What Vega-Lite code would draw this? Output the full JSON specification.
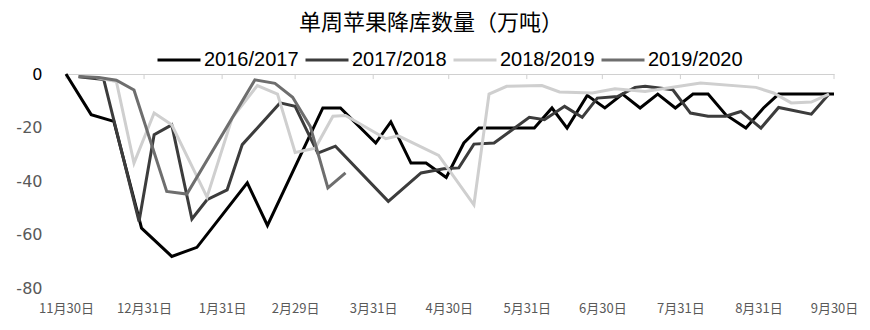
{
  "$schema": "https://vega.github.io/schema/vega-lite/v6.json",
  "width": 768,
  "height": 214,
  "autosize": "none",
  "padding": {"left": 66, "top": 74, "right": 36, "bottom": 42},
  "background": "white",
  "config": {
    "view": {"stroke": null},
    "axisX": {
      "domain": false, "ticks": false, "grid": false, "title": null,
      "labelFont": "Noto Sans CJK SC", "labelFontSize": 13, "labelColor": "#595959",
      "labelPadding": 14, "labelOverlap": false, "labelFlush": false
    },
    "axisY": {
      "domain": false, "ticks": false, "title": null, "tickCount": 4,
      "labelFont": "DejaVu Sans", "labelFontSize": 16, "labelPadding": 24
    }
  },
  "title": {
    "text": "单周苹果降库数量（万吨）",
    "font": "Noto Sans CJK SC",
    "fontSize": 22,
    "fontWeight": "normal",
    "color": "black",
    "anchor": "middle",
    "dx": -19,
    "offset": 2
  },
  "datasets": {
    "ticks": [
      {"date": "2019-11-30", "top": 0, "bottom": -1.9},
      {"date": "2019-12-31", "top": 0, "bottom": -1.9},
      {"date": "2020-01-31", "top": 0, "bottom": -1.9},
      {"date": "2020-02-29", "top": 0, "bottom": -1.9},
      {"date": "2020-03-31", "top": 0, "bottom": -1.9},
      {"date": "2020-04-30", "top": 0, "bottom": -1.9},
      {"date": "2020-05-31", "top": 0, "bottom": -1.9},
      {"date": "2020-06-30", "top": 0, "bottom": -1.9},
      {"date": "2020-07-31", "top": 0, "bottom": -1.9},
      {"date": "2020-08-31", "top": 0, "bottom": -1.9},
      {"date": "2020-09-30", "top": 0, "bottom": -1.9}
    ],
    "main": [
      {"series": "2016/2017", "date": "2019-11-30", "value": 0},
      {"series": "2016/2017", "date": "2019-12-10", "value": -15.2},
      {"series": "2016/2017", "date": "2019-12-19", "value": -17.7},
      {"series": "2016/2017", "date": "2019-12-30", "value": -57.6},
      {"series": "2016/2017", "date": "2020-01-11", "value": -68.2},
      {"series": "2016/2017", "date": "2020-01-21", "value": -64.8},
      {"series": "2016/2017", "date": "2020-02-10", "value": -40.7},
      {"series": "2016/2017", "date": "2020-02-18", "value": -56.6},
      {"series": "2016/2017", "date": "2020-03-11", "value": -12.7},
      {"series": "2016/2017", "date": "2020-03-18", "value": -12.7},
      {"series": "2016/2017", "date": "2020-04-01", "value": -25.8},
      {"series": "2016/2017", "date": "2020-04-07", "value": -17.9},
      {"series": "2016/2017", "date": "2020-04-15", "value": -33.3},
      {"series": "2016/2017", "date": "2020-04-21", "value": -33.3},
      {"series": "2016/2017", "date": "2020-04-29", "value": -38.7},
      {"series": "2016/2017", "date": "2020-05-06", "value": -25.8},
      {"series": "2016/2017", "date": "2020-05-12", "value": -20.2},
      {"series": "2016/2017", "date": "2020-06-03", "value": -20.2},
      {"series": "2016/2017", "date": "2020-06-10", "value": -12.7},
      {"series": "2016/2017", "date": "2020-06-16", "value": -20.2},
      {"series": "2016/2017", "date": "2020-06-24", "value": -8.0},
      {"series": "2016/2017", "date": "2020-07-01", "value": -12.7},
      {"series": "2016/2017", "date": "2020-07-08", "value": -7.5},
      {"series": "2016/2017", "date": "2020-07-15", "value": -12.7},
      {"series": "2016/2017", "date": "2020-07-22", "value": -7.5},
      {"series": "2016/2017", "date": "2020-07-29", "value": -12.7},
      {"series": "2016/2017", "date": "2020-08-05", "value": -7.5},
      {"series": "2016/2017", "date": "2020-08-11", "value": -7.5},
      {"series": "2016/2017", "date": "2020-08-18", "value": -15.2},
      {"series": "2016/2017", "date": "2020-08-26", "value": -20.2},
      {"series": "2016/2017", "date": "2020-09-02", "value": -12.7},
      {"series": "2016/2017", "date": "2020-09-08", "value": -7.5},
      {"series": "2016/2017", "date": "2020-09-30", "value": -7.5},

      {"series": "2017/2018", "date": "2019-12-05", "value": -1.0},
      {"series": "2017/2018", "date": "2019-12-15", "value": -2.1},
      {"series": "2017/2018", "date": "2019-12-29", "value": -55.1},
      {"series": "2017/2018", "date": "2020-01-04", "value": -22.7},
      {"series": "2017/2018", "date": "2020-01-11", "value": -19.0},
      {"series": "2017/2018", "date": "2020-01-19", "value": -54.2},
      {"series": "2017/2018", "date": "2020-01-25", "value": -47.0},
      {"series": "2017/2018", "date": "2020-02-02", "value": -43.3},
      {"series": "2017/2018", "date": "2020-02-08", "value": -26.4},
      {"series": "2017/2018", "date": "2020-02-23", "value": -10.8},
      {"series": "2017/2018", "date": "2020-02-29", "value": -12.1},
      {"series": "2017/2018", "date": "2020-03-09", "value": -29.6},
      {"series": "2017/2018", "date": "2020-03-16", "value": -27.0},
      {"series": "2017/2018", "date": "2020-04-06", "value": -47.6},
      {"series": "2017/2018", "date": "2020-04-19", "value": -37.0},
      {"series": "2017/2018", "date": "2020-04-28", "value": -35.4},
      {"series": "2017/2018", "date": "2020-05-04", "value": -35.1},
      {"series": "2017/2018", "date": "2020-05-10", "value": -26.2},
      {"series": "2017/2018", "date": "2020-05-18", "value": -25.8},
      {"series": "2017/2018", "date": "2020-06-01", "value": -16.2},
      {"series": "2017/2018", "date": "2020-06-07", "value": -17.1},
      {"series": "2017/2018", "date": "2020-06-15", "value": -12.1},
      {"series": "2017/2018", "date": "2020-06-22", "value": -16.2},
      {"series": "2017/2018", "date": "2020-06-28", "value": -9.0},
      {"series": "2017/2018", "date": "2020-07-06", "value": -8.4},
      {"series": "2017/2018", "date": "2020-07-13", "value": -5.0},
      {"series": "2017/2018", "date": "2020-07-17", "value": -4.6},
      {"series": "2017/2018", "date": "2020-07-28", "value": -5.9},
      {"series": "2017/2018", "date": "2020-08-04", "value": -14.6},
      {"series": "2017/2018", "date": "2020-08-11", "value": -15.8},
      {"series": "2017/2018", "date": "2020-08-18", "value": -15.8},
      {"series": "2017/2018", "date": "2020-08-24", "value": -14.0},
      {"series": "2017/2018", "date": "2020-09-01", "value": -20.2},
      {"series": "2017/2018", "date": "2020-09-08", "value": -12.5},
      {"series": "2017/2018", "date": "2020-09-21", "value": -15.0},
      {"series": "2017/2018", "date": "2020-09-28", "value": -7.5},

      {"series": "2018/2019", "date": "2019-12-12", "value": -1.3},
      {"series": "2018/2019", "date": "2019-12-20", "value": -2.8},
      {"series": "2018/2019", "date": "2019-12-27", "value": -33.3},
      {"series": "2018/2019", "date": "2020-01-04", "value": -14.6},
      {"series": "2018/2019", "date": "2020-01-11", "value": -19.0},
      {"series": "2018/2019", "date": "2020-01-25", "value": -46.0},
      {"series": "2018/2019", "date": "2020-02-04", "value": -16.4},
      {"series": "2018/2019", "date": "2020-02-14", "value": -4.3},
      {"series": "2018/2019", "date": "2020-02-22", "value": -7.5},
      {"series": "2018/2019", "date": "2020-02-29", "value": -29.3},
      {"series": "2018/2019", "date": "2020-03-08", "value": -27.7},
      {"series": "2018/2019", "date": "2020-03-15", "value": -15.8},
      {"series": "2018/2019", "date": "2020-03-20", "value": -15.5},
      {"series": "2018/2019", "date": "2020-04-05", "value": -24.2},
      {"series": "2018/2019", "date": "2020-04-10", "value": -23.1},
      {"series": "2018/2019", "date": "2020-04-26", "value": -30.4},
      {"series": "2018/2019", "date": "2020-05-10", "value": -48.9},
      {"series": "2018/2019", "date": "2020-05-16", "value": -7.5},
      {"series": "2018/2019", "date": "2020-05-23", "value": -4.6},
      {"series": "2018/2019", "date": "2020-06-06", "value": -4.3},
      {"series": "2018/2019", "date": "2020-06-13", "value": -6.7},
      {"series": "2018/2019", "date": "2020-06-26", "value": -7.1},
      {"series": "2018/2019", "date": "2020-07-05", "value": -5.5},
      {"series": "2018/2019", "date": "2020-07-17", "value": -6.5},
      {"series": "2018/2019", "date": "2020-07-24", "value": -5.5},
      {"series": "2018/2019", "date": "2020-08-08", "value": -3.4},
      {"series": "2018/2019", "date": "2020-08-30", "value": -5.0},
      {"series": "2018/2019", "date": "2020-09-06", "value": -7.1},
      {"series": "2018/2019", "date": "2020-09-13", "value": -10.8},
      {"series": "2018/2019", "date": "2020-09-21", "value": -10.5},
      {"series": "2018/2019", "date": "2020-09-28", "value": -7.5},

      {"series": "2019/2020", "date": "2019-12-05", "value": -0.9},
      {"series": "2019/2020", "date": "2019-12-13", "value": -1.3},
      {"series": "2019/2020", "date": "2019-12-20", "value": -2.3},
      {"series": "2019/2020", "date": "2019-12-27", "value": -6.0},
      {"series": "2019/2020", "date": "2020-01-09", "value": -43.9},
      {"series": "2019/2020", "date": "2020-01-17", "value": -44.9},
      {"series": "2019/2020", "date": "2020-02-13", "value": -2.2},
      {"series": "2019/2020", "date": "2020-02-21", "value": -3.5},
      {"series": "2019/2020", "date": "2020-02-28", "value": -8.7},
      {"series": "2019/2020", "date": "2020-03-06", "value": -19.6},
      {"series": "2019/2020", "date": "2020-03-13", "value": -42.6},
      {"series": "2019/2020", "date": "2020-03-20", "value": -37.0}
    ]
  },
  "layer": [
    {
      "data": {"name": "ticks"},
      "mark": {"type": "rule", "color": "#d0d0d0", "strokeWidth": 1},
      "encoding": {
        "x": {
          "field": "date", "type": "temporal",
          "scale": {"type": "utc", "domain": [{"year": 2019, "month": 11, "date": 30, "utc": true}, {"year": 2020, "month": 9, "date": 30, "utc": true}]},
          "axis": {
            "labelExpr": "utcFormat(datum.value, '%-m月%-d日')",
            "values": [
              {"year": 2019, "month": 11, "date": 30, "utc": true},
              {"year": 2019, "month": 12, "date": 31, "utc": true},
              {"year": 2020, "month": 1, "date": 31, "utc": true},
              {"year": 2020, "month": 2, "date": 29, "utc": true},
              {"year": 2020, "month": 3, "date": 31, "utc": true},
              {"year": 2020, "month": 4, "date": 30, "utc": true},
              {"year": 2020, "month": 5, "date": 31, "utc": true},
              {"year": 2020, "month": 6, "date": 30, "utc": true},
              {"year": 2020, "month": 7, "date": 31, "utc": true},
              {"year": 2020, "month": 8, "date": 31, "utc": true},
              {"year": 2020, "month": 9, "date": 30, "utc": true}
            ]
          }
        },
        "y": {
          "field": "top", "type": "quantitative",
          "scale": {"domain": [-80, 0], "nice": false},
          "axis": {
            "grid": true,
            "gridColor": {"condition": {"test": "datum.value === 0", "value": "#d0d0d0"}, "value": "transparent"},
            "labelColor": {"condition": {"test": "datum.value === 0", "value": "black"}, "value": "#595959"},
            "labelExpr": "'' + datum.value"
          }
        },
        "y2": {"field": "bottom"}
      }
    },
    {
      "data": {"name": "main"},
      "mark": {"type": "line", "strokeJoin": "miter", "strokeCap": "butt"},
      "encoding": {
        "x": {
          "field": "date", "type": "temporal",
          "scale": {"type": "utc", "domain": [{"year": 2019, "month": 11, "date": 30, "utc": true}, {"year": 2020, "month": 9, "date": 30, "utc": true}]},
          "axis": {
            "labelExpr": "utcFormat(datum.value, '%-m月%-d日')",
            "values": [
              {"year": 2019, "month": 11, "date": 30, "utc": true},
              {"year": 2019, "month": 12, "date": 31, "utc": true},
              {"year": 2020, "month": 1, "date": 31, "utc": true},
              {"year": 2020, "month": 2, "date": 29, "utc": true},
              {"year": 2020, "month": 3, "date": 31, "utc": true},
              {"year": 2020, "month": 4, "date": 30, "utc": true},
              {"year": 2020, "month": 5, "date": 31, "utc": true},
              {"year": 2020, "month": 6, "date": 30, "utc": true},
              {"year": 2020, "month": 7, "date": 31, "utc": true},
              {"year": 2020, "month": 8, "date": 31, "utc": true},
              {"year": 2020, "month": 9, "date": 30, "utc": true}
            ]
          }
        },
        "y": {
          "field": "value", "type": "quantitative",
          "scale": {"domain": [-80, 0], "nice": false},
          "axis": {
            "grid": true,
            "gridColor": {"condition": {"test": "datum.value === 0", "value": "#d0d0d0"}, "value": "transparent"},
            "labelColor": {"condition": {"test": "datum.value === 0", "value": "black"}, "value": "#595959"},
            "labelExpr": "'' + datum.value"
          }
        },
        "color": {
          "field": "series", "type": "nominal",
          "scale": {"domain": ["2016/2017", "2017/2018", "2018/2019", "2019/2020"], "range": ["#000000", "#3c3c3c", "#cfcfcf", "#6e6e6e"]},
          "legend": {
            "orient": "none", "legendX": 90, "legendY": -37, "direction": "horizontal", "columns": 4,
            "title": null, "symbolType": "stroke", "symbolSize": 1849, "symbolStrokeWidth": 3,
            "labelFont": "Liberation Sans", "labelFontSize": 20, "labelColor": "black",
            "labelOffset": 2, "columnPadding": 0, "padding": 0, "labelLimit": 300
          }
        },
        "strokeWidth": {
          "field": "series", "type": "nominal",
          "scale": {"domain": ["2016/2017", "2017/2018", "2018/2019", "2019/2020"], "range": [3, 3, 3, 5]},
          "legend": null
        }
      }
    }
  ]
}
